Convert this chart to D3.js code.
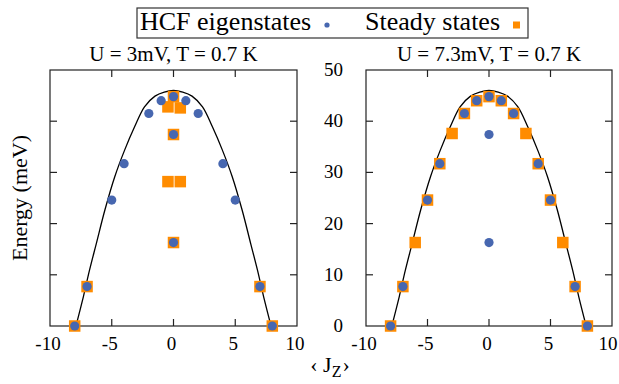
<!DOCTYPE html>
<html>
<head>
<meta charset="utf-8">
<script src="https://cdnjs.cloudflare.com/ajax/libs/d3/7.8.5/d3.min.js"></script>
<style>
    body { margin: 0; background: #fff; }
    svg text { font-family: "Liberation Serif", "Times New Roman", serif; fill: #000; }
</style>
</head>
<body>
<div id="graph"></div>
<script>
// HCF eigenstates (same for both panels)
const hcfJ = [-8, -7, -5, -4, -2, -1, 0, 1, 2, 4, 5, 7, 8, 0, 0]
const hcfE = [0, 7.7, 24.6, 31.7, 41.5, 44.0, 44.8, 44.0, 41.5, 31.7, 24.6, 7.7, 0, 37.4, 16.3]

// steady states, left panel (U = 3mV)
const steadyLeftJ = [-8, 8, -7, 7, 0, 0, 0, -0.45, 0.55, -0.45, 0.55]
const steadyLeftE = [0, 0, 7.7, 7.7, 16.3, 37.4, 44.8, 42.8, 42.6, 28.2, 28.2]

// steady states, right panel (U = 7.3mV)
const steadyRightJ = [-8, -7, -6, -5, -4, -3, -2, -1, 0, 1, 2, 3, 4, 5, 6, 7, 8]
const steadyRightE = [0, 7.7, 16.3, 24.6, 31.7, 37.6, 41.5, 44.0, 44.8, 44.0, 41.5, 37.6, 31.7, 24.6, 16.3, 7.7, 0]

// envelope curve
const curveJ = [-7.9, -7.3, -6.8, -6.25, -5.55, -4.75, -3.95, -3.15, -2.35, -1.5, -0.75, 0, 0.75, 1.5, 2.35, 3.15, 3.95, 4.75, 5.55, 6.25, 6.8, 7.3, 7.9]
const curveE = [0, 5.7, 10.9, 16.1, 22.7, 29.2, 34.4, 38.9, 42.8, 44.9, 45.7, 46.0, 45.7, 44.9, 42.8, 38.9, 34.4, 29.2, 22.7, 16.1, 10.9, 5.7, 0]

const xTicks = [-10, -5, 0, 5, 10]
const yTicks = [0, 10, 20, 30, 40, 50]
const titles = ["U = 3mV, T = 0.7 K", "U = 7.3mV, T = 0.7 K"]

const W = 619, H = 384
const yTop = 70, yBottom = 326
const panels = [
    { left: 50, right: 297, J: steadyLeftJ, E: steadyLeftE, ylabels: false, title: titles[0] },
    { left: 366, right: 612, J: steadyRightJ, E: steadyRightE, ylabels: true, title: titles[1] }
]

const blue = "#4767b0", orange = "#ff8c00"
const tickLen = 7
const serif = "'Liberation Serif', 'Times New Roman', serif"

const svg = d3.select("#graph")
    .append("svg")
    .attr("width", W)
    .attr("height", H)
    .attr("font-family", serif)

const yScale = d3.scaleLinear()
    .domain([0, 50])
    .range([yBottom, yTop])

panels.forEach(p => {
    const xScale = d3.scaleLinear()
        .domain([-10, 10])
        .range([p.left, p.right])

    const g = svg.append("g")

    //frame
    g.append("rect")
        .attr("x", p.left)
        .attr("y", yTop)
        .attr("width", p.right - p.left)
        .attr("height", yBottom - yTop)
        .attr("fill", "none")
        .attr("stroke", "#222")
        .attr("stroke-width", 1.2)

    //inner ticks, all four sides
    const xIn = xTicks.slice(1, -1), yIn = yTicks.slice(1, -1)
    xIn.forEach(t => {
        g.append("line").attr("x1", xScale(t)).attr("x2", xScale(t))
            .attr("y1", yBottom).attr("y2", yBottom - tickLen)
            .attr("stroke", "#222").attr("stroke-width", 1.2)
        g.append("line").attr("x1", xScale(t)).attr("x2", xScale(t))
            .attr("y1", yTop).attr("y2", yTop + tickLen)
            .attr("stroke", "#222").attr("stroke-width", 1.2)
    })
    yIn.forEach(t => {
        g.append("line").attr("x1", p.left).attr("x2", p.left + tickLen)
            .attr("y1", yScale(t)).attr("y2", yScale(t))
            .attr("stroke", "#222").attr("stroke-width", 1.2)
        g.append("line").attr("x1", p.right).attr("x2", p.right - tickLen)
            .attr("y1", yScale(t)).attr("y2", yScale(t))
            .attr("stroke", "#222").attr("stroke-width", 1.2)
    })

    //tick labels (kept inside the page on the far right)
    g.selectAll(".xl")
        .data(xTicks)
        .enter()
        .append("text")
        .attr("x", d => Math.min(xScale(d) - 2, W - 11))
        .attr("y", yBottom + 24)
        .attr("text-anchor", "middle")
        .attr("font-size", 19)
        .text(d => d)

    if (p.ylabels) {
        g.selectAll(".yl")
            .data(yTicks)
            .enter()
            .append("text")
            .attr("x", p.left - 23)
            .attr("y", d => yScale(d) + 6)
            .attr("text-anchor", "end")
            .attr("font-size", 19)
            .text(d => d)
    }

    //title
    g.append("text")
        .attr("x", (p.left + p.right) / 2)
        .attr("y", 61)
        .attr("text-anchor", "middle")
        .attr("font-size", 21)
        .text(p.title)

    //envelope curve
    const line = d3.line()
        .x((d, i) => xScale(curveJ[i]))
        .y(d => yScale(d))
        .curve(d3.curveCatmullRom)
    g.append("path")
        .datum(curveE)
        .attr("d", line)
        .attr("fill", "none")
        .attr("stroke", "#000")
        .attr("stroke-width", 1.3)

    //steady states
    const sq = 11.5
    g.selectAll(".sq")
        .data(p.E)
        .enter()
        .append("rect")
        .attr("x", (d, i) => xScale(p.J[i]) - sq / 2)
        .attr("y", d => yScale(d) - sq / 2)
        .attr("width", sq)
        .attr("height", sq)
        .attr("fill", orange)

    //HCF eigenstates
    g.selectAll(".dot")
        .data(hcfE)
        .enter()
        .append("circle")
        .attr("cx", (d, i) => xScale(hcfJ[i]))
        .attr("cy", d => yScale(d))
        .attr("r", 4.6)
        .attr("fill", blue)
})

//axis labels
svg.append("text")
    .attr("transform", "translate(27," + ((yTop + yBottom) / 2) + ") rotate(-90)")
    .attr("text-anchor", "middle")
    .attr("font-size", 22)
    .text("Energy (meV)")

const xl = svg.append("text")
    .attr("x", 330)
    .attr("y", 372)
    .attr("text-anchor", "middle")
    .attr("font-size", 22)
xl.append("tspan").text("\u2039 J")
xl.append("tspan").attr("font-size", 16).attr("dy", 5).text("Z")
xl.append("tspan").attr("dy", -5).attr("dx", 1).text("\u203A")

//legend
const leg = svg.append("g")
leg.append("rect")
    .attr("x", 137)
    .attr("y", 8)
    .attr("width", 391)
    .attr("height", 30)
    .attr("fill", "#fff")
    .attr("stroke", "#333")
    .attr("stroke-width", 1.2)
leg.append("text")
    .attr("x", 140)
    .attr("y", 30)
    .attr("font-size", 26)
    .text("HCF eigenstates")
leg.append("circle")
    .attr("cx", 327)
    .attr("cy", 25)
    .attr("r", 2.6)
    .attr("fill", blue)
leg.append("text")
    .attr("x", 365)
    .attr("y", 30)
    .attr("font-size", 26)
    .text("Steady states")
leg.append("rect")
    .attr("x", 513)
    .attr("y", 21.5)
    .attr("width", 7)
    .attr("height", 7)
    .attr("fill", orange)
</script>
</body>
</html>
